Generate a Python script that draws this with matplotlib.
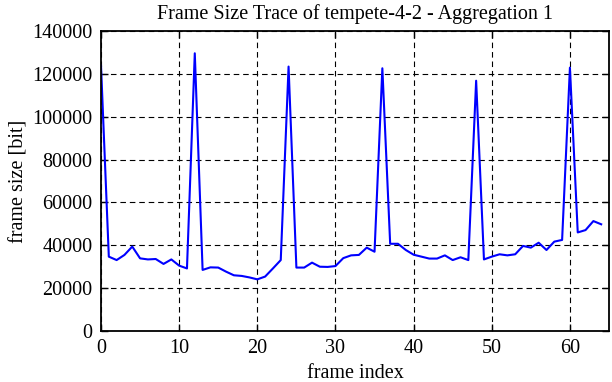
import matplotlib
matplotlib.use("Agg")
import matplotlib.pyplot as plt
import numpy as np

frame_index = list(range(65))
frame_size = [124000, 34700, 33100, 35500, 39400, 33900, 33400, 33600, 31300, 33400,
              30500, 29200, 129600, 28500, 29700, 29600, 27700, 26000, 25700, 25000,
              24100, 25400, 29200, 33100, 123400, 29600, 29600, 31900, 30000, 29900,
              30300, 34000, 35300, 35500, 38900, 37000, 122600, 40700, 40700, 37800,
              35600, 34700, 33800, 33800, 35300, 33100, 34400, 33100, 116800, 33400,
              34700, 35800, 35300, 35800, 39700, 38900, 41200, 37800, 41700, 42500,
              122900, 46000, 47100, 51300, 49800]

x_ticks = [0, 10, 20, 30, 40, 50, 60]
y_ticks = [0, 20000, 40000, 60000, 80000, 100000, 120000, 140000]

plt.rcParams['font.family'] = ['Liberation Serif', 'DejaVu Serif']
fig = plt.figure(figsize=(6.12, 3.82), dpi=100)
ax = fig.add_axes([101/612, 1-331/382, (609-101)/612, 300/382])
ax.plot(frame_index, frame_size, color='#0000ff', linewidth=1.5)
ax.set_xlim(0, 65)
ax.set_ylim(0, 140000)
ax.set_xticks(x_ticks)
ax.set_yticks(y_ticks)
ax.grid(True, color='black', linestyle=(0, (5, 3.5)), linewidth=0.8)
ax.tick_params(direction='in', top=True, right=True, length=5, width=1, labelsize=14.5, pad=6)
for s in ax.spines.values():
    s.set_linewidth(1.3)
ax.set_xlabel('frame index', fontsize=14.5, labelpad=4)
ax.set_ylabel('frame size [bit]', fontsize=14.5, labelpad=3)
ax.set_title('Frame Size Trace of tempete-4-2 - Aggregation 1', fontsize=14.5, pad=9)
fig.savefig('out.png', dpi=100)
